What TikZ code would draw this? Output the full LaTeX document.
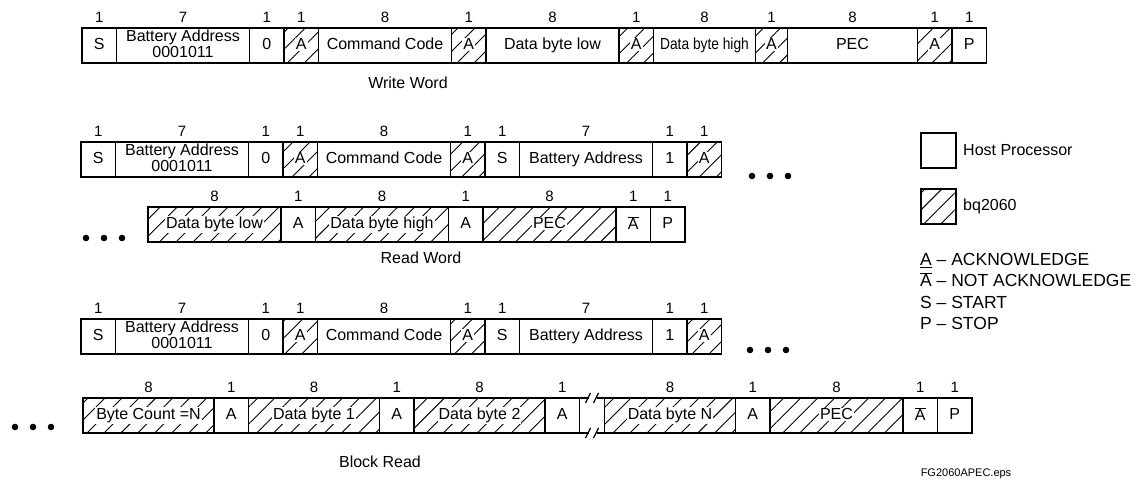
\documentclass[tikz,border=0pt]{standalone}
\usepackage{fontspec}
\setmainfont{Liberation Sans}
\usepackage{graphicx}
\usetikzlibrary{positioning,patterns.meta}

\newcommand{\gap}[1]{{\setlength{\fboxsep}{1pt}\colorbox{white}{#1}}}
\newcommand{\nack}{$\overline{\mbox{A}}$}

\tikzstyle{field} = [rectangle, draw, line width=1.6pt, minimum height=35pt,
    inner sep=0pt, outer sep=0pt, align=center, execute at begin node={\vphantom{Ay}}]
\tikzstyle{host} = [field, fill=white]
\tikzstyle{dev} = [field, pattern={Lines[angle=45,distance=12pt,line width=0.9pt]}]
\tikzstyle{num} = [font=\fontsize{15}{15}\selectfont, inner sep=2pt, label distance=3.5pt]
\tikzstyle{caption} = [inner sep=0pt]
\tikzset{
  bit/.style={minimum width=34.5pt, label={[num]above:1}},
  byte/.style={minimum width=133pt, label={[num]above:8}},
  addr/.style={minimum width=133pt, label={[num]above:7}}
}

\begin{document}
\begin{tikzpicture}[x=1pt, y=-1pt, font=\fontsize{16}{14}\selectfont]
      \useasboundingbox (0,0) rectangle (1136,486);
      % Write Word
      \node [host, bit, anchor=north west] (ws) at (82,28) {S};
      \node [host, addr, right=0pt of ws] (wadr) {Battery Address\\0001011};
      \node [host, bit, right=0pt of wadr] (wrw) {0};
      \node [dev, bit, right=0pt of wrw] (wack1) {\gap{A}};
      \node [host, byte, right=0pt of wack1] (wcmd) {Command Code};
      \node [dev, bit, right=0pt of wcmd] (wack2) {\gap{A}};
      \node [host, byte, right=0pt of wack2] (wlow) {Data byte low};
      \node [dev, bit, right=0pt of wlow] (wack3) {\gap{A}};
      \node [host, byte, minimum width=102pt, right=0pt of wack3] (whigh) {\scalebox{0.86}[1]{Data byte high}};
      \node [dev, bit, minimum width=32pt, right=0pt of whigh] (wack4) {\gap{A}};
      \node [host, byte, minimum width=130pt, right=0pt of wack4] (wpec) {PEC};
      \node [dev, bit, right=0pt of wpec] (wack5) {\gap{A}};
      \node [host, bit, right=0pt of wack5] (wstop) {P};
      \node [caption] (wword) at (408,83) {Write Word};
      % Read Word
      \node [host, bit, anchor=north west] (rs1) at (81,142) {S};
      \node [host, addr, right=0pt of rs1] (radr1) {Battery Address\\0001011};
      \node [host, bit, right=0pt of radr1] (rwr) {0};
      \node [dev, bit, right=0pt of rwr] (rack1) {\gap{A}};
      \node [host, byte, right=0pt of rack1] (rcmd) {Command Code};
      \node [dev, bit, right=0pt of rcmd] (rack2) {\gap{A}};
      \node [host, bit, right=0pt of rack2] (rs2) {S};
      \node [host, addr, right=0pt of rs2] (radr2) {Battery Address};
      \node [host, bit, right=0pt of radr2] (rrd) {1};
      \node [dev, bit, right=0pt of rrd] (rack3) {\gap{A}};
      \fill (752,176) circle (3.3) (770,176) circle (3.3) (788,176) circle (3.3);
      \fill (86,238) circle (3.3) (104,238) circle (3.3) (122,238) circle (3.3);
      \node [dev, byte, anchor=north west] (rlow) at (148,207) {\gap{Data byte low}};
      \node [host, bit, right=0pt of rlow] (rack4) {A};
      \node [dev, byte, right=0pt of rack4] (rhigh) {\gap{Data byte high}};
      \node [host, bit, right=0pt of rhigh] (rack5) {A};
      \node [dev, byte, right=0pt of rack5] (rpec) {\gap{PEC}};
      \node [host, bit, right=0pt of rpec] (rnack) {\nack};
      \node [host, bit, right=0pt of rnack] (rstop) {P};
      \node [caption] (rword) at (421,258) {Read Word};
      % Block Read
      \node [host, bit, anchor=north west] (bs1) at (81,319) {S};
      \node [host, addr, right=0pt of bs1] (badr1) {Battery Address\\0001011};
      \node [host, bit, right=0pt of badr1] (bwr) {0};
      \node [dev, bit, right=0pt of bwr] (back1) {\gap{A}};
      \node [host, byte, right=0pt of back1] (bcmd) {Command Code};
      \node [dev, bit, right=0pt of bcmd] (back2) {\gap{A}};
      \node [host, bit, right=0pt of back2] (bs2) {S};
      \node [host, addr, right=0pt of bs2] (badr2) {Battery Address};
      \node [host, bit, right=0pt of badr2] (brd) {1};
      \node [dev, bit, right=0pt of brd] (back3) {\gap{A}};
      \fill (750,350) circle (3.3) (768,350) circle (3.3) (786,350) circle (3.3);
      \fill (15,427) circle (3.3) (33,427) circle (3.3) (51,427) circle (3.3);
      \node [dev, byte, minimum width=131pt, anchor=north west] (bcount) at (83,398) {\gap{Byte Count =N}};
      \node [host, bit, right=0pt of bcount] (backa) {A};
      \node [dev, byte, minimum width=131pt, right=0pt of backa] (bdat1) {\gap{Data byte 1}};
      \node [host, bit, right=0pt of bdat1] (backb) {A};
      \node [dev, byte, minimum width=131pt, right=0pt of backb] (bdat2) {\gap{Data byte 2}};
      \node [host, bit, right=0pt of bdat2] (backc) {A};
      \node [dev, byte, minimum width=131pt, right=25pt of backc] (bdatn) {\gap{Data byte N}};
      \node [host, bit, right=0pt of bdatn] (backd) {A};
      \node [dev, byte, right=0pt of backd] (bpec) {\gap{PEC}};
      \node [host, bit, right=0pt of bpec] (bnack) {\nack};
      \node [host, bit, right=0pt of bnack] (bstop) {P};
      \node [caption] (bword) at (380,462) {Block Read};
      % break between Data byte 2 and Data byte N
      \draw [line width=1.6pt] (backc.north east) -- ++(9,0) (backc.south east) -- ++(9,0)
          (bdatn.north west) -- ++(-8,0) (bdatn.south west) -- ++(-8,0);
      \draw [line width=1.2pt] (backc.north east) ++(6,5) -- ++(5,-10)
          (backc.south east) ++(6,5) -- ++(5,-10)
          (bdatn.north west) ++(-11,5) -- ++(5,-10)
          (bdatn.south west) ++(-11,5) -- ++(5,-10);
      % Key
      \node [host, line width=1.2pt, minimum width=35pt, anchor=north west] (hostkey) at (921,133) {};
      \node [caption, right=7pt of hostkey] (hosttxt) {Host Processor};
      \node [dev, line width=1.2pt, minimum width=35pt, anchor=north west] (devkey) at (921,189) {};
      \node [caption, right=7pt of devkey] (devtxt) {bq2060};
      \node [caption, anchor=north west, align=left, font=\fontsize{17.5}{21.5}\selectfont] (keys) at (920,253)
          {\underline{A} -- ACKNOWLEDGE\\\nack{} -- NOT ACKNOWLEDGE\\S -- START\\P -- STOP};
      \node [caption, font=\fontsize{11}{11}\selectfont] (fname) at (966,474) {FG2060APEC.eps};
  \end{tikzpicture}
\end{document}
